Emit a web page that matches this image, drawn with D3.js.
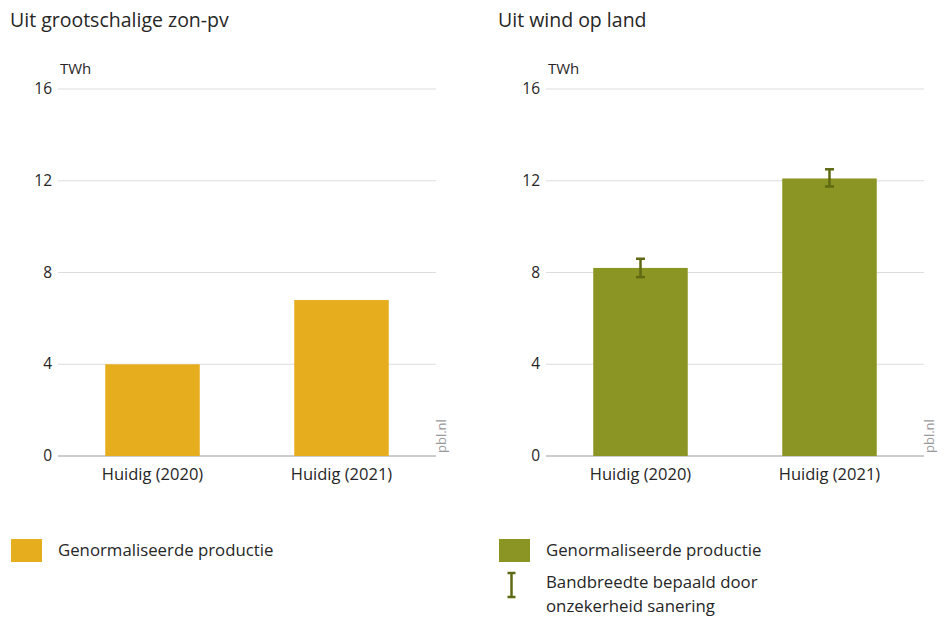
<!DOCTYPE html>
<html><head><meta charset="utf-8">
<script src="https://cdn.jsdelivr.net/npm/d3@7"></script>
<style>
body{margin:0;background:#fff;}
svg text{font-family:"Open Sans",sans-serif;fill:#262626;}
</style></head><body>
<svg id="c" width="946" height="618"></svg>
<script>
const categories = ["Huidig (2020)", "Huidig (2021)"];
const zonValues = [4.0, 6.8];
const windValues = [8.2, 12.1];
const windLow = [7.8, 11.75];
const windHigh = [8.6, 12.5];
const yTicks = [0, 4, 8, 12, 16];
const titles = ["Uit grootschalige zon-pv", "Uit wind op land"];
const legendLabel = "Genormaliseerde productie";
const errLabel = ["Bandbreedte bepaald door", "onzekerheid sanering"];

const svg = d3.select("#c");
const colZon = "#E6AD1E", colWind = "#8B9523", colErr = "#5F6A12";

function panel(ox, title, values, color, low, high) {
  const g = svg.append("g");
  const x0 = ox + 58, x1 = ox + 436;
  const y = d3.scaleLinear().domain([0, 16]).range([456, 89]);
  const x = d3.scaleBand().domain(categories).range([x0, x1]).paddingInner(0.5).paddingOuter(0.25);
  g.append("text").attr("x", ox + 10).attr("y", 27).attr("font-size", 19.5).text(title);
  g.append("text").attr("x", ox + 60).attr("y", 74).attr("font-size", 15).text("TWh");
  g.selectAll(".grid").data(yTicks).join("line")
    .attr("x1", x0).attr("x2", x1).attr("y1", d => y(d)).attr("y2", d => y(d))
    .attr("stroke", d => d === 0 ? "#999" : "#ddd").attr("stroke-width", d => d === 0 ? 1.2 : 1);
  g.selectAll(".tl").data(yTicks).join("text")
    .attr("x", ox + 52).attr("y", d => y(d) + 5).attr("text-anchor", "end").attr("font-size", 15.5).text(d => d);
  g.selectAll(".bar").data(values).join("rect")
    .attr("x", (d, i) => x(categories[i])).attr("width", x.bandwidth())
    .attr("y", d => y(d)).attr("height", d => y(0) - y(d)).attr("fill", color);
  g.selectAll(".cl").data(categories).join("text")
    .attr("x", d => x(d) + x.bandwidth() / 2).attr("y", 480).attr("text-anchor", "middle").attr("font-size", 16.5).text(d => d);
  if (low) {
    categories.forEach((c, i) => {
      const cx = x(c) + x.bandwidth() / 2;
      g.append("line").attr("x1", cx).attr("x2", cx).attr("y1", y(high[i])).attr("y2", y(low[i])).attr("stroke", colErr).attr("stroke-width", 2.5);
      [high[i], low[i]].forEach(v => g.append("line").attr("x1", cx - 4.5).attr("x2", cx + 4.5).attr("y1", y(v)).attr("y2", y(v)).attr("stroke", colErr).attr("stroke-width", 2.5));
    });
  }
  g.append("text").attr("transform", `translate(${ox + 446},453) rotate(-90)`).attr("font-size", 13).style("fill", "#999").text("pbl.nl");
  // legend
  g.append("rect").attr("x", ox + 11).attr("y", 539).attr("width", 31).attr("height", 23).attr("fill", color);
  g.append("text").attr("x", ox + 58).attr("y", 556).attr("font-size", 16.8).text(legendLabel);
  if (low) {
    const cx = ox + 23.5;
    g.append("line").attr("x1", cx).attr("x2", cx).attr("y1", 573).attr("y2", 597).attr("stroke", colErr).attr("stroke-width", 2.5);
    [573, 597].forEach(v => g.append("line").attr("x1", cx - 4).attr("x2", cx + 4).attr("y1", v).attr("y2", v).attr("stroke", colErr).attr("stroke-width", 2.5));
    errLabel.forEach((t, i) => g.append("text").attr("x", ox + 58).attr("y", 588 + i * 24).attr("font-size", 16.8).text(t));
  }
}
panel(0, titles[0], zonValues, colZon);
panel(488, titles[1], windValues, colWind, windLow, windHigh);
</script></body></html>
